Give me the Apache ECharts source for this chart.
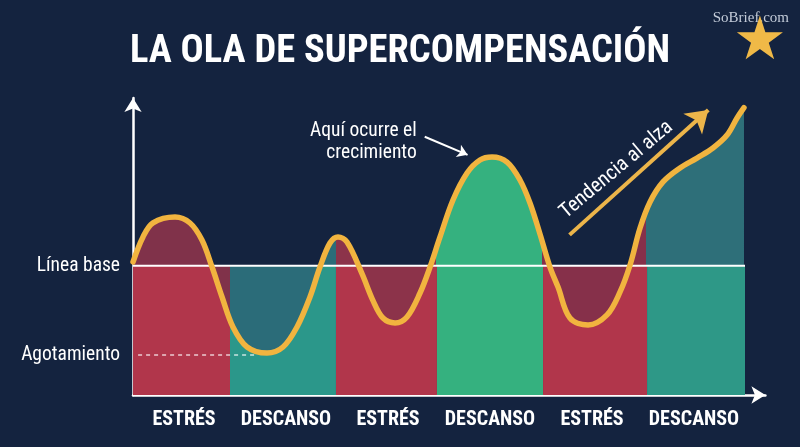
<!DOCTYPE html>
<html><head><meta charset="utf-8">
<script src="https://cdn.jsdelivr.net/npm/echarts@6/dist/echarts.min.js"></script>
<style>html,body{margin:0;padding:0;background:#14233f;}#c{width:800px;height:447px;}</style>
</head><body><div id="c"></div>
<script>
// ---- data ----
const categories = ['ESTRÉS','DESCANSO','ESTRÉS','DESCANSO','ESTRÉS','DESCANSO'];
const columnEdges = [0, 0.951, 1.99, 2.98, 4.02, 5.04, 6.0];
const baselineValue = 100;
const exhaustionValue = 31;
const exhaustionSpan = [0.05, 1.2];
const waveX = [0, 0.098, 0.196, 0.412, 0.559, 0.676, 0.775, 0.873, 0.980, 1.118, 1.314, 1.471, 1.608, 1.735, 1.833, 1.931, 2.010, 2.098, 2.245, 2.353, 2.451, 2.569, 2.686, 2.814, 2.912, 3.010, 3.137, 3.275, 3.402, 3.520, 3.667, 3.794, 3.892, 3.990, 4.088, 4.167, 4.284, 4.461, 4.647, 4.775, 4.873, 4.971, 5.069, 5.196, 5.363, 5.529, 5.686, 5.824, 5.922, 5.99];
const waveY = [103, 122.4, 133.3, 137.8, 133.2, 120, 99.1, 75.9, 52.7, 37.2, 32.5, 37.2, 52.7, 75.9, 99.1, 117.7, 122.4, 118.5, 94, 73.1, 59.6, 55.8, 60.4, 79, 99.1, 122.4, 151, 171.9, 182, 184.3, 180.4, 166.5, 148.7, 124.7, 99.1, 83.6, 59.6, 54.2, 62, 79.8, 100.7, 129.3, 149.5, 165, 175.8, 183.5, 191.3, 201.3, 214.5, 222.5];
const markerLabels = ['Línea base', 'Agotamiento'];
const markerValues = [100, 31];
const growthNote = 'Aquí ocurre el\ncrecimiento';
const growthArrow = [[2.86, 200], [3.28, 186]];
const trendNote = 'Tendencia al alza';
const trendArrow = [[4.28, 124], [5.64, 220.7]];
const titleText = 'LA OLA DE SUPERCOMPENSACIÓN';
const brandText = 'SoBrief.com';

// ---- styles ----
const COND = "'Liberation Sans Narrow','Roboto Condensed','DejaVu Sans Condensed','Arial Narrow',Roboto,sans-serif";
const lowerColors = ['#b1364b','#2b978a','#b1364b','#35b17f','#b1364b','#2e9887'];
const overlayColors = ['#80324a','#2b6c79','#8c334a','#35b17f','#86304a','#2e6f79'];
const stops = [];
overlayColors.forEach((c,i)=>{stops.push({offset:columnEdges[i]/6,color:c});stops.push({offset:columnEdges[i+1]/6,color:c});});
const waveData = waveX.map((x,i)=>[x, waveY[i]]);
const columnData = categories.map((c,i)=>[columnEdges[i], columnEdges[i+1], baselineValue, i]);

const chart = echarts.init(document.getElementById('c'), null, {renderer:'canvas'});
const gridCommon = {left:133, top:98, bottom:52};
chart.setOption({
  backgroundColor:'#14233f',
  animation:false,
  title:{text:titleText, left:'center', top:28, textStyle:{color:'#ffffff', fontSize:38.5, fontWeight:'bold', fontFamily:COND}},
  grid:[Object.assign({right:34.6}, gridCommon), Object.assign({right:55}, gridCommon)],
  xAxis:[
    {gridIndex:0, type:'value', min:0, max:6.2, axisLine:{show:true, lineStyle:{color:'#ffffff', width:2.5}, symbol:['none','arrow'], symbolSize:[13,14]}, axisTick:{show:false}, axisLabel:{show:false}, splitLine:{show:false}},
    {gridIndex:1, type:'category', data:categories, axisLine:{show:false}, axisTick:{show:false}, axisLabel:{interval:0, color:'#ffffff', fontSize:20, fontWeight:'bold', fontFamily:COND, margin:15}}
  ],
  yAxis:[
    {gridIndex:0, type:'value', min:0, max:230, axisLine:{show:true, lineStyle:{color:'#ffffff', width:2.5}, symbol:['none','arrow'], symbolSize:[13,14]}, axisTick:{show:false}, axisLabel:{show:false}, splitLine:{show:false}},
    {gridIndex:1, type:'value', min:0, max:230, show:false}
  ],
  series:[
    {type:'custom', xAxisIndex:0, yAxisIndex:0, z:1, data:columnData,
     renderItem:function(params, api){
       const a = api.coord([api.value(0), api.value(2)]);
       const b = api.coord([api.value(1), 0]);
       return {type:'rect', shape:{x:a[0], y:a[1], width:b[0]-a[0], height:b[1]-a[1]}, style:{fill:lowerColors[api.value(3)]}};
     }},
    {type:'line', xAxisIndex:0, yAxisIndex:0, z:2, data:waveData, smooth:0.35, symbol:'none',
     lineStyle:{width:0}, areaStyle:{origin:baselineValue, opacity:1, color:{type:'linear', x:0,y:0,x2:1,y2:0, colorStops:stops}}},
    {type:'line', xAxisIndex:0, yAxisIndex:0, z:3, data:[[0,baselineValue],[6,baselineValue]], symbol:'none', lineStyle:{color:'#ffffff', width:2}},
    {type:'line', xAxisIndex:0, yAxisIndex:0, z:3, data:[[exhaustionSpan[0],exhaustionValue],[exhaustionSpan[1],exhaustionValue]], symbol:'none', lineStyle:{color:'rgba(255,255,255,0.75)', width:1.5, type:[4,4]}},
    {type:'line', xAxisIndex:0, yAxisIndex:0, z:4, data:waveData, smooth:0.35, symbol:'none',
     lineStyle:{color:'#f1b43f', width:5.5, cap:'round', join:'round'}},
    {type:'lines', coordinateSystem:'cartesian2d', xAxisIndex:0, yAxisIndex:0, z:5, symbol:['none','arrow'], symbolSize:10,
     lineStyle:{color:'#ffffff', width:2, opacity:1, curveness:0}, data:[{coords:growthArrow}]},
    {type:'lines', coordinateSystem:'cartesian2d', xAxisIndex:0, yAxisIndex:0, z:5, symbol:['none','arrow'], symbolSize:21,
     lineStyle:{color:'#ecb54a', width:4, opacity:1, curveness:0}, data:[{coords:trendArrow}]}
  ]
});

function px(p){return chart.convertToPixel({gridIndex:0}, p);}
const g = [];
markerLabels.forEach((t,i)=>{
  const p = px([0, markerValues[i]]);
  g.push({type:'text', x:p[0]-13, y:p[1], style:{text:t, fill:'#ffffff', font:'19.5px '+COND, align:'right', verticalAlign:'middle'}});
});
const ga = px(growthArrow[0]);
g.push({type:'text', x:ga[0]-8, y:ga[1]+5, style:{text:growthNote, fill:'#ffffff', font:'19.5px '+COND, align:'right', verticalAlign:'middle', lineHeight:22}});
const t0 = px(trendArrow[0]), t1 = px(trendArrow[1]);
const ang = Math.atan2(t0[1]-t1[1], t1[0]-t0[0]);
const s = 0.42;
const P = [t0[0]+s*(t1[0]-t0[0]), t0[1]+s*(t1[1]-t0[1])];
const mx = P[0] - 17*Math.sin(ang), my = P[1] - 17*Math.cos(ang);
g.push({type:'text', x:mx, y:my, rotation:ang*0.95, style:{text:trendNote, fill:'#ffffff', font:'20.5px '+COND, align:'center', verticalAlign:'middle'}});
g.push({type:'text', right:11, top:11, style:{text:brandText, fill:'#c3cbd8', font:'15px "Liberation Serif",serif'}});
g.push({type:'text', x:760, y:43, style:{text:'★', fill:'#f0b947', font:'60px "DejaVu Sans"', align:'center', verticalAlign:'middle'}});
chart.setOption({graphic:g});
</script></body></html>
